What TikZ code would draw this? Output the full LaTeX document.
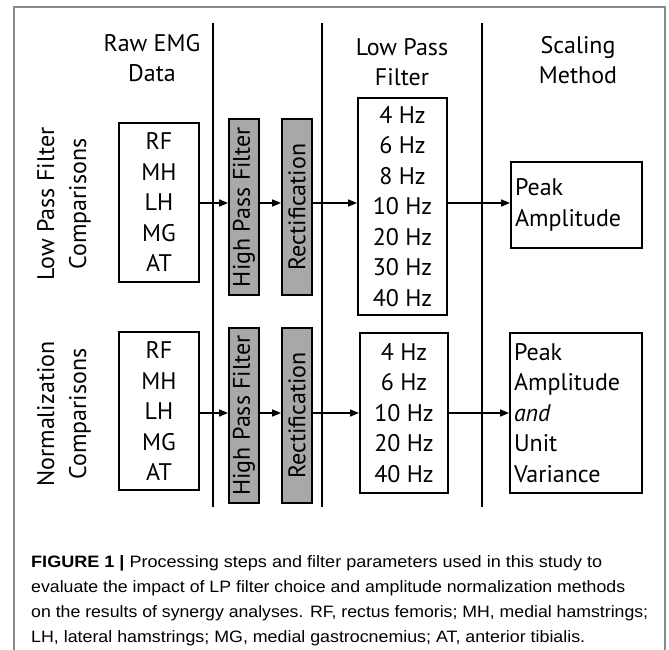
\documentclass[tikz,border=0pt]{standalone}
\usepackage{fontspec}
\setmainfont{PT Sans}
\newfontfamily\capfont{Liberation Sans}
\usetikzlibrary{arrows.meta}
\definecolor{boxgray}{HTML}{A8A8A8}
\definecolor{framegray}{HTML}{8A8A8A}
\begin{document}
\begin{tikzpicture}[x=1pt,y=-1pt,
  txt/.style={inner sep=0pt, align=center, font=\fontsize{24}{30}\selectfont},
  box/.style={draw, line width=1.9pt, inner sep=0pt, align=center, font=\fontsize{24}{30.5}\selectfont},
  lbox/.style={draw, line width=1.9pt, inner sep=4pt, align=left, font=\fontsize{24}{30.5}\selectfont},
  filt/.style={draw, line width=1.9pt, fill=boxgray, inner sep=0pt, rotate=90, font=\fontsize{24}{25}\selectfont},
  sidelab/.style={inner sep=0pt, align=center, rotate=90, font=\fontsize{24}{32}\selectfont},
  sepline/.style={line width=1.9pt},
  arr/.style={line width=1.6pt, -{Triangle[length=9pt,width=7pt]}},
  captext/.style={inner sep=0pt, anchor=base west, font=\capfont\fontsize{16.5}{20}\selectfont}
]
\useasboundingbox (0,0) rectangle (669,650);
\draw[framegray, line width=1.5pt] (14,7) rectangle (665,720);

% separators
\draw[sepline] (213,23) -- (213,507);
\draw[sepline] (322,23) -- (322,507);
\draw[sepline] (482,23) -- (482,507);

% headers
\node[txt] (h1) at (152,58) {Raw EMG\\Data};
\node[txt] (h2) at (402,62) {Low Pass\\Filter};
\node[txt] (h3) at (578,60) {Scaling\\Method};

% side labels
\node[sidelab] (s1) at (64,204) {Low Pass Filter\\Comparisons};
\node[sidelab] (s2) at (64,414) {Normalization\\Comparisons};

% row 1
\coordinate (r1) at (0,203);
\node[box, minimum width=80pt, minimum height=159pt] (raw1) at (159,202.5) {RF\\MH\\LH\\MG\\AT};
\node[filt, minimum width=176pt, minimum height=30pt] (hp1) at (244,207) {High Pass Filter};
\node[filt, minimum width=176pt, minimum height=30pt] (re1) at (297,207) {Rectification};
\node[box, minimum width=89pt, minimum height=217pt] (lp1) at (402.5,206.5) {4 Hz\\6 Hz\\8 Hz\\10 Hz\\20 Hz\\30 Hz\\40 Hz};
\node[lbox, text width=123pt, minimum height=86pt] (sc1) at (576.5,205) {Peak\\Amplitude};

\draw[arr] (raw1.east |- r1) -- (hp1.north |- r1);
\draw[arr] (hp1.south |- r1) -- (re1.north |- r1);
\draw[arr] (re1.south |- r1) -- (lp1.west |- r1);
\draw[arr] (lp1.east |- r1) -- (sc1.west |- r1);

% row 2
\coordinate (r2) at (0,413);
\node[box, minimum width=80pt, minimum height=158pt] (raw2) at (159,411) {RF\\MH\\LH\\MG\\AT};
\node[filt, minimum width=175pt, minimum height=30pt] (hp2) at (244,415.5) {High Pass Filter};
\node[filt, minimum width=175pt, minimum height=30pt] (re2) at (297,415.5) {Rectification};
\node[box, minimum width=88pt, minimum height=160pt] (lp2) at (404,413) {4 Hz\\6 Hz\\10 Hz\\20 Hz\\40 Hz};
\node[lbox, text width=124pt, minimum height=160pt] (sc2) at (576,413) {Peak\\Amplitude\\\textit{and}\\Unit\\Variance};

\draw[arr] (raw2.east |- r2) -- (hp2.north |- r2);
\draw[arr] (hp2.south |- r2) -- (re2.north |- r2);
\draw[arr] (re2.south |- r2) -- (lp2.west |- r2);
\draw[arr] (lp2.east |- r2) -- (sc2.west |- r2);

% caption
\node[captext] (c1) at (31,567) {\resizebox{571pt}{\height}{\textbf{FIGURE 1 |} Processing steps and filter parameters used in this study to}};
\node[captext] (c2) at (31,592) {\resizebox{594pt}{\height}{evaluate the impact of LP filter choice and amplitude normalization methods}};
\node[captext] (c3) at (31,617) {\resizebox{617pt}{\height}{on the results of synergy analyses. RF, rectus femoris; MH, medial hamstrings;}};
\node[captext] (c4) at (31,642) {\resizebox{554pt}{\height}{LH, lateral hamstrings; MG, medial gastrocnemius; AT, anterior tibialis.}};
\end{tikzpicture}
\end{document}
